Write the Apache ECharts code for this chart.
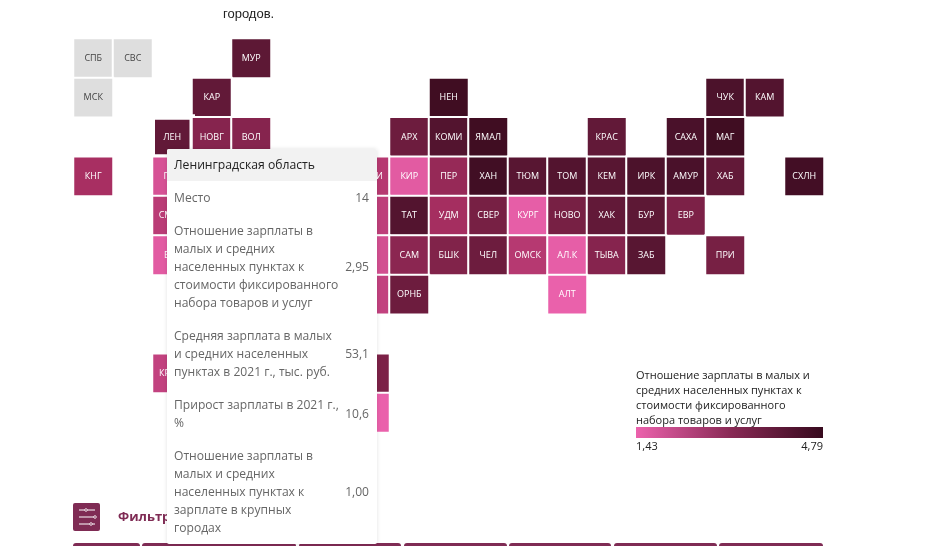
<!DOCTYPE html>
<html lang="ru">
<head>
<meta charset="utf-8">
<style>
html,body{margin:0;padding:0;background:#fff;overflow:hidden}
#chart{width:930px;height:546px}
.tip{width:210px;font-family:"Open Sans",sans-serif;font-size:12.1px;line-height:18px;color:#666;white-space:normal}
.tip .h{background:#f2f2f2;height:32px;line-height:32px;padding-left:7px;font-size:12.2px;color:#222}
.tip table{border-collapse:collapse;width:210px;table-layout:fixed;margin-top:0}
.tip td{padding:7.5px 0;vertical-align:middle}
.tip td.l{padding-left:7px;width:167px}
.tip td.v{text-align:right;padding-right:8px}
</style>
</head>
<body>
<div id="chart"></div>
<script src="https://cdn.jsdelivr.net/npm/echarts@6/dist/echarts.min.js"></script>
<script>
const tileNames = ['МУР','КАР','НЕН','ЧУК','КАМ','ЛЕН','НОВГ','ВОЛ','АРХ','КОМИ','ЯМАЛ','КРАС','САХА','МАГ',
  'КНГ','ПСК','МАРИ','КИР','ПЕР','ХАН','ТЮМ','ТОМ','КЕМ','ИРК','АМУР','ХАБ','СХЛН',
  'СМОЛ','ЧУВ','ТАТ','УДМ','СВЕР','КУРГ','НОВО','ХАК','БУР','ЕВР',
  'БРЯ','УЛЬ','САМ','БШК','ЧЕЛ','ОМСК','АЛ.К','ТЫВА','ЗАБ','ПРИ',
  'САР','ОРНБ','АЛТ','КРЫМ','ЧЕЧ','ИНГ'];
const tileCols = [4,3,9,16,17,2,3,4,8,9,10,13,15,16,
  0,2,7,8,9,10,11,12,13,14,15,16,18,
  2,7,8,9,10,11,12,13,14,15,
  2,7,8,9,10,11,12,13,14,16,
  7,8,12,2,7,7];
const tileRows = [0,1,1,1,1,2,2,2,2,2,2,2,2,2,
  3,3,3,3,3,3,3,3,3,3,3,3,3,
  4,4,4,4,4,4,4,4,4,4,
  5,5,5,5,5,5,5,5,5,5,
  6,6,6,8,8,9];
const tileValues = [3.0,2.95,4.3,3.5,3.1,2.95,2.6,2.6,2.85,3.1,4.3,2.95,3.6,4.3,
  2.27,1.7,2.1,1.55,2.45,4.2,3.05,3.1,3.05,3.5,3.6,2.95,4.1,
  2.05,2.0,3.1,2.3,2.75,1.5,2.75,2.95,3.0,2.7,
  1.55,1.75,2.55,2.65,2.85,2.1,1.5,2.6,3.05,2.75,
  1.95,2.85,1.45,1.95,2.7,1.45];
const coveredLabels = ['ЧУВ','УЛЬ','САР','ЧЕЧ','ИНГ'];
const greyNames = ['СПБ','СВС','МСК'];
const greyCols = [0,1,0];
const greyRows = [0,0,1];
const colLabels = Array.from({length:19},(_,i)=>String(i));
const rowLabels = Array.from({length:10},(_,i)=>String(i));
const scaleMin = 1.43, scaleMax = 4.79;
const scaleColors = ['#ec62ad','#a82f62','#52142e','#450f27','#380a1c'];
const legendTitle = ['Отношение зарплаты в малых и','средних населенных пунктах к','стоимости фиксированного','набора товаров и услуг'];
const legendMin = '1,43', legendMax = '4,79';
const tipTitle = 'Ленинградская область';
const tipLabels = ['Место','Отношение зарплаты в малых и средних населенных пунктах к стоимости фиксированного набора товаров и услуг','Средняя зарплата в малых и средних населенных пунктах в 2021 г., тыс. руб.','Прирост зарплаты в 2021 г., %','Отношение зарплаты в малых и средних населенных пунктах к зарплате в крупных городах'];
const tipValues = ['14','2,95','53,1','10,6','1,00'];
const headerSegments = [[73,67],[142,154],[299,102],[404,103],[509,102],[614,103],[719,104]];

const brand = '#7f2b54';
const font = '"Open Sans",sans-serif';
const mainData = tileNames.map((n,i)=>{
  const d = {name:n,value:[tileCols[i],tileRows[i],tileValues[i]]};
  if(n==='ЛЕН') d.itemStyle={borderWidth:5.5};
  if(coveredLabels.includes(n)) d.label={show:false};
  return d;
});
const greyData = greyNames.map((n,i)=>({name:n,value:[greyCols[i],greyRows[i],0]}));

const sliders=[[9,5],[18,14],[14,22]];
const graphics=[
  {type:'text',left:223,top:7.5,style:{text:'городов.',font:'13px "Liberation Sans",sans-serif',fill:'#222'}},
  {type:'rect',shape:{x:73,y:503,width:27,height:28,r:2},style:{fill:brand}},
  {type:'text',left:118,top:510.5,style:{text:'Фильтр',font:'bold 13px '+font,fill:brand}},
  {type:'rect',shape:{x:636,y:427,width:187,height:11},style:{fill:{type:'linear',x:0,y:0,x2:1,y2:0,colorStops:[{offset:0,color:'#ec62ad'},{offset:.5,color:'#8a2a56'},{offset:1,color:'#370a1e'}]}}},
  {type:'text',left:636,top:441.5,style:{text:legendMin,font:'11px '+font,fill:'#222'}},
  {type:'text',right:107,top:441.5,style:{text:legendMax,font:'11px '+font,fill:'#222',textAlign:'right'}}
];
legendTitle.forEach((t,i)=>graphics.push({type:'text',left:636,top:370+i*15,style:{text:t,font:'11px '+font,fill:'#222'}}));
headerSegments.forEach(s=>graphics.push({type:'rect',shape:{x:s[0],y:543,width:s[1],height:6,r:[3,3,0,0]},style:{fill:brand}}));
sliders.forEach((s,i)=>{
  const y=510+i*7;
  graphics.push({type:'line',shape:{x1:79,y1:y,x2:95,y2:y},style:{stroke:'#fff',lineWidth:1}});
  graphics.push({type:'circle',shape:{cx:79+s[0]-2,cy:y,r:1.3},style:{fill:brand,stroke:'#fff',lineWidth:.8}});
});

const chart = echarts.init(document.getElementById('chart'));
chart.setOption({
  animation:false,
  grid:{left:73.5,top:38.5,width:750.5,height:394},
  xAxis:{type:'category',data:colLabels,show:false},
  yAxis:{type:'category',data:rowLabels,inverse:true,show:false},
  visualMap:{show:false,min:scaleMin,max:scaleMax,seriesIndex:0,dimension:2,inRange:{color:scaleColors}},
  tooltip:{
    trigger:'item',alwaysShowContent:true,showDelay:0,hideDelay:0,transitionDuration:0,
    position:[167,149],padding:0,borderWidth:0,backgroundColor:'#fff',
    extraCssText:'box-shadow:0 0 4px rgba(0,0,0,.12);border-radius:2px;overflow:hidden;',
    formatter:()=>'<div class="tip"><div class="h">'+tipTitle+'</div><table>'+
      tipLabels.map((l,i)=>'<tr><td class="l">'+l+'</td><td class="v">'+tipValues[i]+'</td></tr>').join('')+
      '</table></div>'
  },
  graphic:graphics,
  series:[
    {type:'heatmap',data:mainData,itemStyle:{borderColor:'#fff',borderWidth:2},
     label:{show:true,formatter:p=>p.name,color:'#fff',fontSize:9,fontFamily:font},emphasis:{disabled:true}},
    {type:'heatmap',data:greyData,itemStyle:{color:'#dedede',borderColor:'#fff',borderWidth:2},
     label:{show:true,formatter:p=>p.name,color:'#444',fontSize:9,fontFamily:font},emphasis:{disabled:true}}
  ]
});
chart.dispatchAction({type:'showTip',seriesIndex:0,dataIndex:tileNames.indexOf('ЛЕН')});
</script>
</body>
</html>
